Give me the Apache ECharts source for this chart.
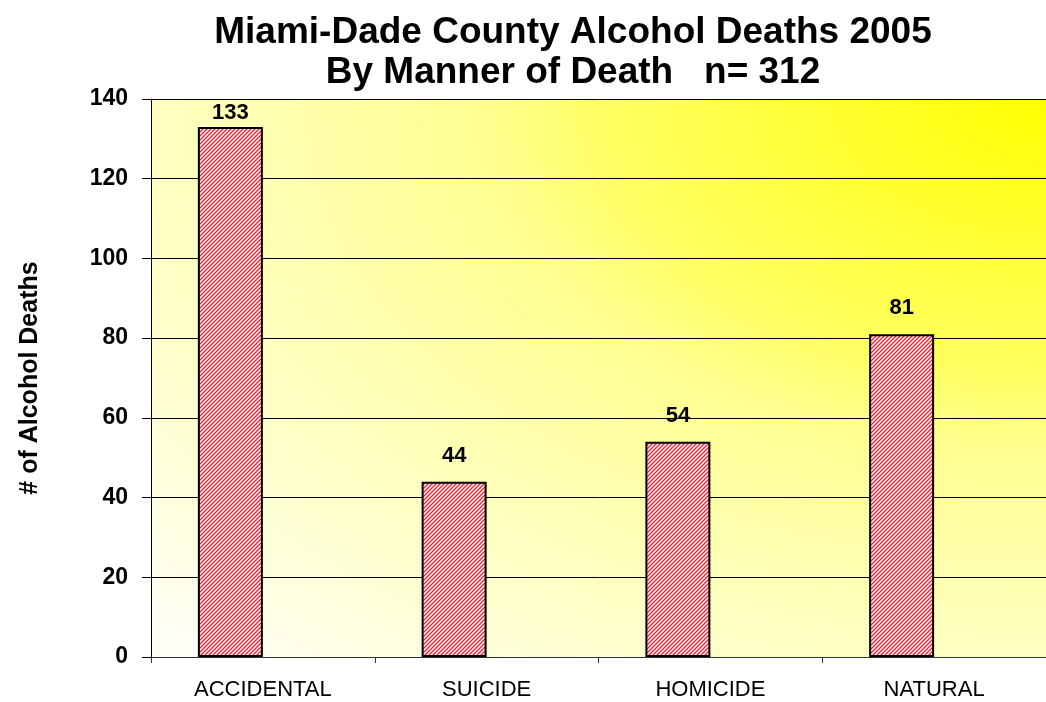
<!DOCTYPE html>
<html lang="en">
<head>
    <meta charset="UTF-8">
    <title>Miami-Dade County Alcohol Deaths 2005</title>
    <style>
        body{margin:0;background:#fff;}
        #main{width:1046px;height:702px;}
    </style>
</head>
<body>
    <div id="main"></div>
    <script src="https://cdn.jsdelivr.net/npm/echarts@6/dist/echarts.min.js"></script>
    <script type="text/javascript">
        var categories = ['ACCIDENTAL', 'SUICIDE', 'HOMICIDE', 'NATURAL'];
        var deaths = [133, 44, 54, 81];
        var yTicks = [0, 20, 40, 60, 80, 100, 120, 140];
        var titleLines = ['Miami-Dade County Alcohol Deaths 2005', 'By Manner of Death   n= 312'];

        // plot area (runs a little past the right edge like the original)
        var plotLeft = 151, plotTop = 99, plotW = 904, plotH = 558;

        // red diagonal hatching like the excel fill
        var hatch = document.createElement('canvas');
        hatch.width = 4;
        hatch.height = 4;
        var hc = hatch.getContext('2d');
        hc.fillStyle = '#ffffff';
        hc.fillRect(0, 0, 4, 4);
        hc.strokeStyle = '#e8283a';
        hc.lineWidth = 1.4;
        hc.beginPath();
        hc.moveTo(-1, 5); hc.lineTo(5, -1);
        hc.moveTo(-1, 1); hc.lineTo(1, -1);
        hc.moveTo(3, 5); hc.lineTo(5, 3);
        hc.stroke();

        var font = 'Liberation Sans, Arial, sans-serif';
        var yMax = yTicks[yTicks.length - 1];

        // labels too close to the top of the plot get pushed down (like excel does)
        var barData = deaths.map(function (v) {
            if (v > yMax - 10) {
                return {value: v, label: {distance: 3}};
            }
            return v;
        });

        var myChart = echarts.init(document.getElementById('main'));

        var option = {
            animation: false,
            title: {
                text: titleLines.join('\n'),
                left: 568,
                textAlign: 'center',
                top: 8,
                textStyle: {
                    fontFamily: font,
                    fontWeight: 'bold',
                    fontSize: 37,
                    lineHeight: 40,
                    color: '#000'
                }
            },
            // "from corner" fill: square rect stretched sideways so the radial gets elliptical
            graphic: [{
                type: 'rect',
                z: -10,
                silent: true,
                x: plotLeft,
                y: plotTop,
                scaleX: plotW / plotH,
                shape: {x: 0, y: 0, width: plotH, height: plotH},
                style: {
                    fill: new echarts.graphic.RadialGradient(1, 0, 1.4, [
                        {offset: 0, color: '#ffff00'},
                        {offset: 0.35, color: '#ffff60'},
                        {offset: 0.45, color: '#ffff90'},
                        {offset: 0.68, color: '#ffffbc'},
                        {offset: 1, color: '#fffff8'}
                    ])
                }
            }],
            grid: {
                left: plotLeft,
                width: plotW,
                top: plotTop,
                height: plotH
            },
            xAxis: {
                type: 'category',
                data: categories,
                axisLine: {lineStyle: {color: '#333', width: 1}},
                axisTick: {show: true, length: 6, lineStyle: {color: '#333'}},
                axisLabel: {
                    margin: 22,
                    fontFamily: font,
                    fontSize: 22,
                    color: '#000'
                }
            },
            yAxis: {
                type: 'value',
                min: yTicks[0],
                max: yMax,
                interval: 20,
                name: '# of Alcohol Deaths',
                nameLocation: 'middle',
                nameGap: 108,
                nameTextStyle: {
                    fontFamily: font,
                    fontWeight: 'bold',
                    fontSize: 25,
                    color: '#000'
                },
                axisLine: {show: true, lineStyle: {color: '#000'}},
                axisTick: {show: true, length: 9, lineStyle: {color: '#000'}},
                axisLabel: {
                    margin: 23,
                    fontFamily: font,
                    fontWeight: 'bold',
                    fontSize: 23,
                    color: '#000'
                },
                splitLine: {lineStyle: {color: '#000', width: 1}}
            },
            series: [{
                type: 'bar',
                data: barData,
                barWidth: 65,
                barGap: '0%',
                itemStyle: {
                    color: {image: hatch, repeat: 'repeat'},
                    borderColor: '#000',
                    borderWidth: 2
                },
                label: {
                    show: true,
                    position: 'top',
                    distance: 15,
                    fontFamily: font,
                    fontWeight: 'bold',
                    fontSize: 22,
                    color: '#000'
                }
            }, {
                type: 'bar',
                data: [],
                barWidth: 65
            }]
        };

        myChart.setOption(option);
    </script>
</body>
</html>
